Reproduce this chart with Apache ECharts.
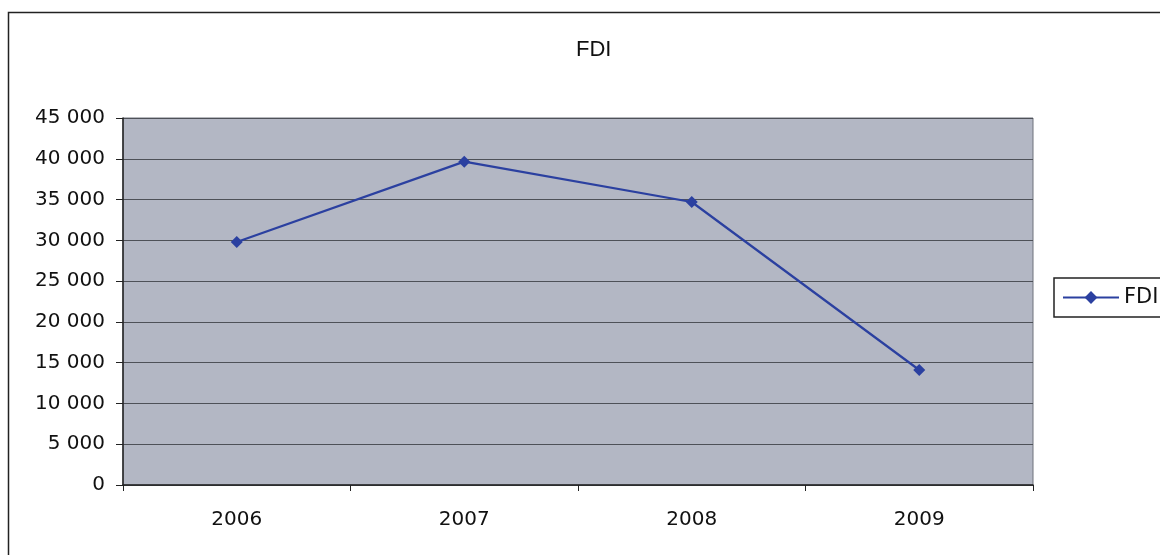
<!DOCTYPE html>
<html><head><meta charset="utf-8">
<style>html,body{margin:0;padding:0;background:#fff;}#c{width:1160px;height:555px;}</style>
<script src="https://cdn.jsdelivr.net/npm/echarts@6/dist/echarts.min.js"></script>
</head><body><div id="c"></div>
<script>
const categories = ['2006', '2007', '2008', '2009'];
const fdiValues = [29800, 39650, 34700, 14100];
const yTicks = { min: 0, max: 45000, interval: 5000 };

const chart = echarts.init(document.getElementById('c'));
chart.setOption({
  backgroundColor: '#ffffff',
  animation: false,
  title: {
    text: 'FDI', left: 571, top: 34,
    textStyle: { fontFamily: 'Liberation Sans', fontSize: 22, fontWeight: 'normal', color: '#111' }
  },
  graphic: [{
    type: 'rect', shape: { x: 8.5, y: 12.5, width: 1200, height: 600 },
    style: { fill: 'none', stroke: '#222', lineWidth: 1.5 }, silent: true, z: -1
  }],
  legend: {
    data: ['FDI'], orient: 'vertical', left: 1054, top: 278,
    backgroundColor: '#fff', borderColor: '#222', borderWidth: 1.5,
    padding: [9, 6, 9, 8], itemWidth: 56, itemHeight: 16, itemGap: 4,
    textStyle: { fontFamily: 'DejaVu Sans', fontSize: 21, color: '#111' }
  },
  grid: {
    left: 123, right: 127, top: 118, bottom: 70,
    show: true, backgroundColor: '#b3b7c4', borderColor: '#6f727c', borderWidth: 1
  },
  xAxis: {
    type: 'category', data: categories, boundaryGap: true,
    axisLine: { lineStyle: { color: '#222', width: 1.5 } },
    axisTick: { show: true, length: 6, lineStyle: { color: '#222' } },
    axisLabel: { fontFamily: 'DejaVu Sans', fontSize: 20, color: '#111', margin: 25 },
    splitLine: { show: false }
  },
  yAxis: {
    type: 'value', min: yTicks.min, max: yTicks.max, interval: yTicks.interval,
    axisLine: { show: true, lineStyle: { color: '#222', width: 1.5 } },
    axisTick: { show: true, length: 7, lineStyle: { color: '#222' } },
    axisLabel: {
      fontFamily: 'DejaVu Sans', fontSize: 20, color: '#111', margin: 18,
      formatter: v => v === 0 ? '0' : String(v).replace(/\B(?=(\d{3})+(?!\d))/g, ' ')
    },
    splitLine: { show: true, lineStyle: { color: '#4e5158', width: 1 } }
  },
  series: [{
    name: 'FDI', type: 'line', data: fdiValues,
    symbol: 'diamond', symbolSize: 12,
    lineStyle: { color: '#2b40a0', width: 2.2 },
    itemStyle: { color: '#2b40a0' }
  }]
});
</script></body></html>
